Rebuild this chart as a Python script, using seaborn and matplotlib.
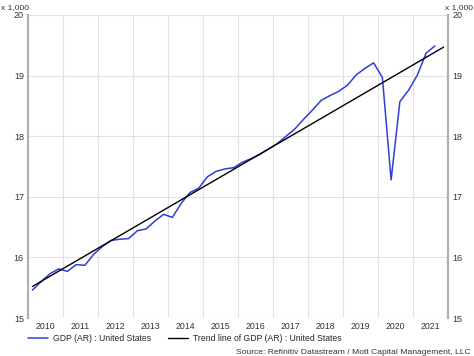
import numpy as np
import pandas as pd
import matplotlib
matplotlib.use("Agg")
import matplotlib.pyplot as plt
import seaborn as sns

# quarterly real GDP (annual rate), thousands of billions, 2010Q1 - 2021Q3
years = [2010, 2011, 2012, 2013, 2014, 2015, 2016, 2017, 2018, 2019, 2020, 2021]
gdp = [15.46, 15.60, 15.73, 15.81,
       15.77, 15.88, 15.87, 16.05,
       16.18, 16.28, 16.30, 16.31,
       16.44, 16.47, 16.60, 16.71,
       16.66, 16.89, 17.07, 17.14,
       17.33, 17.42, 17.46, 17.48,
       17.57, 17.63, 17.70, 17.79,
       17.88, 18.00, 18.12, 18.28,
       18.43, 18.59, 18.67, 18.74,
       18.84, 19.01, 19.12, 19.21,
       18.97, 17.28, 18.57, 18.76,
       19.01, 19.37, 19.49]
# trend line end points (start 2010Q1, end 2021Q4)
trend_t = [2010.125, 2021.875]
trend_v = [15.52, 19.47]

t = [years[0] + i * 0.25 + 0.125 for i in range(len(gdp))]
df = pd.DataFrame({"t": t, "gdp": gdp})
tr = pd.DataFrame({"t": trend_t, "v": trend_v})

sns.set_style("white")
plt.rcParams["font.family"] = ["Liberation Sans", "DejaVu Sans"]

fig = plt.figure(figsize=(4.74, 3.56), dpi=100)
ax = fig.add_axes([28 / 474, 1 - 318 / 356, 420 / 474, 303 / 356])

sns.lineplot(data=df, x="t", y="gdp", ax=ax, color="#2f3fd6", lw=1.1,
             label="GDP (AR) : United States")
sns.lineplot(data=tr, x="t", y="v", ax=ax, color="black", lw=1.0,
             label="Trend line of GDP (AR) : United States")

ax.set_xlim(2010, 2022)
ax.set_ylim(15, 20)
ax.set_xlabel("")
ax.set_ylabel("")

# year boundaries as grid, labels centred in each year
ax.set_xticks(np.arange(2011, 2022))
ax.set_xticklabels([])
ax.set_xticks([y + 0.5 for y in years], minor=True)
ax.set_xticklabels([str(y) for y in years], minor=True)
ax.set_yticks([15, 16, 17, 18, 19, 20])
ax.grid(True, which="major", color="#e2e2e2", lw=0.8)
ax.tick_params(axis="x", which="both", length=0, labelsize=6.3, colors="#333333", pad=3)
ax.tick_params(axis="y", length=0, labelsize=6.5, colors="#333333", pad=3,
               labelleft=True, labelright=True)

for s in ["top", "bottom"]:
    ax.spines[s].set_visible(False)
for s in ["left", "right"]:
    ax.spines[s].set_color("#b0b0b0")
    ax.spines[s].set_linewidth(1.6)

fig.text(1 / 474, 1 - 4 / 356, "x 1,000", ha="left", va="top",
         fontsize=6, color="#333333")
fig.text(473 / 474, 1 - 4 / 356, "x 1,000", ha="right", va="top",
         fontsize=6, color="#333333")

ax.legend(loc="upper left", bbox_to_anchor=(0.0, -0.052), ncol=2, frameon=False,
          fontsize=6.2, handlelength=2.3, handletextpad=0.6, columnspacing=2.0,
          borderaxespad=0, borderpad=0)

fig.text(471 / 474, 1 - 352 / 356, "Source: Refinitiv Datastream / Mott Capital Management, LLC",
         ha="right", va="center", fontsize=6.1, color="#333333")

fig.savefig("out.png", dpi=100)
